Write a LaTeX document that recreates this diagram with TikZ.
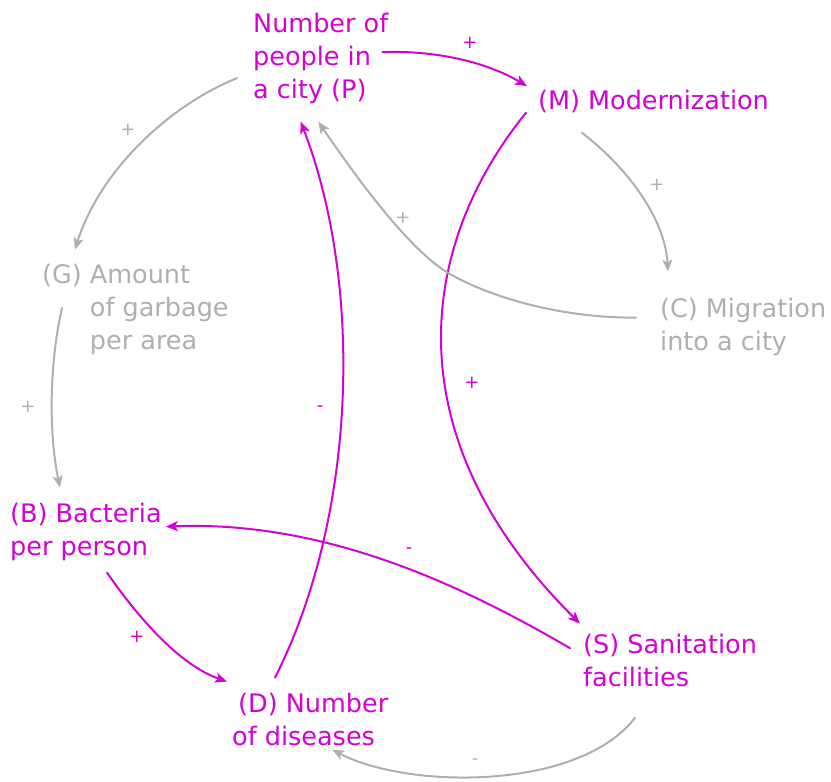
\documentclass[tikz,border=0pt]{standalone}
\usepackage{fontspec}
\setmainfont{DejaVu Sans}
\usetikzlibrary{arrows.meta}
\definecolor{pinkline}{RGB}{212,0,212}
\definecolor{grayline}{RGB}{175,175,175}
\begin{document}
\begin{tikzpicture}[line cap=round,line join=round,>={Stealth[length=12pt,width=10pt,inset=3pt]},x=1pt,y=-1pt,
  factor/.style={anchor=north west,inner sep=0pt,align=left,font=\fontsize{25.5}{33}\selectfont},
  pinkfactor/.style={factor,text=pinkline},
  grayfactor/.style={factor,text=grayline},
  pinklink/.style={->,color=pinkline,line width=2pt},
  graylink/.style={->,color=grayline,line width=2pt},
  pinksign/.style={text=pinkline,inner sep=0pt,font=\fontsize{18}{18}\selectfont},
  graysign/.style={text=grayline,inner sep=0pt,font=\fontsize{18}{18}\selectfont}]
\useasboundingbox (0,0) rectangle (831,782);
% factors
\node[pinkfactor] (P) at (253,12.6) {Number of\\people in\\a city (P)};
\node[pinkfactor] (M) at (538,89.6) {(M) Modernization};
\node[grayfactor] (C) at (660,297.6) {(C) Migration\\into a city};
\node[grayfactor] (G) at (42,263.6) {(G) Amount\\\phantom{(G) }of garbage\\\phantom{(G) }per area};
\node[pinkfactor] (B) at (10,502.6) {(B) Bacteria\\per person};
\node[pinkfactor] (D) at (232,692.6) {\hspace*{6pt}(D) Number\\of diseases};
\node[pinkfactor] (S) at (583,633.6) {(S) Sanitation\\facilities};
% links
\draw[pinklink] ([shift={(-6,-6)}]P.east) .. controls (440,50) and (490,64) .. ([shift={(-11,-15)}]M.west);
\draw[pinklink] ([shift={(-12,0)}]M.south west) .. controls (415,250) and (395,440) .. ([shift={(-3,-10)}]S.north west);
\draw[graylink] ([shift={(44,20)}]M.south west) .. controls (630,170) and (665,220) .. ([shift={(8,-26)}]C.north west);
\draw[graylink] ([shift={(-24,-9)}]C.west) .. controls (560,318) and (490,297) .. (450,274)
  .. controls (415,254) and (369,196) .. ([shift={(-2.5,18)}]P.south);
\draw[graylink] ([shift={(-16,20)}]P.west) .. controls (170,105) and (100,170) .. ([shift={(33,-14)}]G.north west);
\draw[graylink] ([shift={(20,-1)}]G.west) .. controls (50,360) and (48,430) .. ([shift={(50,-15)}]B.north west);
\draw[pinklink] ([shift={(97,12)}]B.south west) .. controls (140,620) and (180,665) .. ([shift={(-5,-11)}]D.north west);
\draw[pinklink] ([shift={(43,-15)}]D.north west) .. controls (355,520) and (365,290) .. ([shift={(-20,18)}]P.south);
\draw[pinklink] ([shift={(-13,-12)}]S.west) .. controls (470,590) and (330,520) .. ([shift={(4,-5)}]B.east);
\draw[graylink] ([shift={(52,31)}]S.south west) .. controls (580,790) and (410,790) .. ([shift={(22,4)}]D.south);
% signs
\node[pinksign] at (470,43) {+};
\node[pinksign] at (472,383) {+};
\node[pinksign] at (137,637) {+};
\node[pinksign] at (320,409) {-};
\node[pinksign] at (409,551) {-};
\node[graysign] at (657,185) {+};
\node[graysign] at (403,218) {+};
\node[graysign] at (128,130) {+};
\node[graysign] at (28,407) {+};
\node[graysign] at (475,762) {-};
\end{tikzpicture}
\end{document}
